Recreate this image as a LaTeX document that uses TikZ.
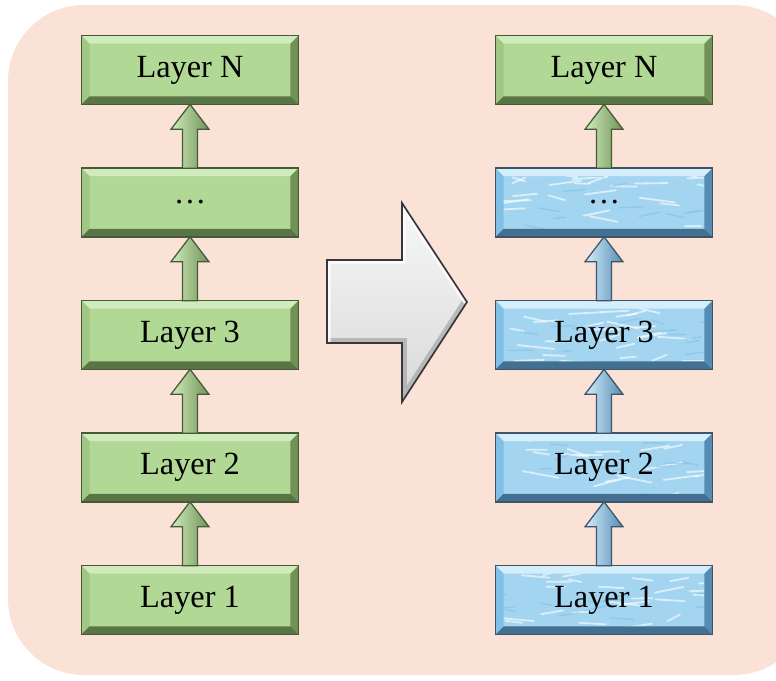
\documentclass[tikz,border=0pt]{standalone}
\usepackage{fontspec}
\setmainfont{Liberation Serif}
\usetikzlibrary{calc}

\definecolor{bgpeach}{RGB}{250,227,214}
\definecolor{greenface}{RGB}{178,216,150}
\definecolor{greenhi}{RGB}{208,236,188}
\definecolor{greenmid}{RGB}{160,200,132}
\definecolor{greenlo}{RGB}{112,146,86}
\definecolor{greenedge}{RGB}{70,90,56}
\definecolor{blueface}{RGB}{164,213,240}
\definecolor{bluehi}{RGB}{212,238,252}
\definecolor{bluemid}{RGB}{128,192,230}
\definecolor{bluelo}{RGB}{84,140,180}
\definecolor{blueedge}{RGB}{62,84,104}
\definecolor{arrowedge}{RGB}{55,55,58}

% bevelled frame round a layer box: name, colour prefix
\newcommand{\bevel}[2]{%
  \fill[#2hi] (#1.north west) -- (#1.north east) -- ($(#1.north east)+(-8,8)$) -- ($(#1.north west)+(8,8)$) -- cycle;
  \fill[#2mid] (#1.north west) -- ($(#1.north west)+(8,8)$) -- ($(#1.south west)+(8,-8)$) -- (#1.south west) -- cycle;
  \fill[#2lo] (#1.north east) -- (#1.south east) -- ($(#1.south east)+(-8,-8)$) -- ($(#1.north east)+(-8,8)$) -- cycle;
  \fill[#2lo!80!black] (#1.south west) -- (#1.south east) -- ($(#1.south east)+(-8,-8)$) -- ($(#1.south west)+(8,-8)$) -- cycle;
  \draw[#2edge, line width=1.1pt] (#1.north west) rectangle (#1.south east);
}

% fat upward arrow from one box to the next: lower, upper, colour prefix
\newcommand{\layerlink}[3]{%
  \draw[left color=#3hi, right color=#3lo, draw=#3edge, line width=0.9pt, line join=miter]
    ($(#1.north)+(-7.5,0)$) -- ($(#2.south)+(-7.5,25)$) -- ($(#2.south)+(-19,25)$) -- (#2.south)
    -- ($(#2.south)+(19,25)$) -- ($(#2.south)+(7.5,25)$) -- ($(#1.north)+(7.5,0)$) -- cycle;
}

\begin{document}
\begin{tikzpicture}[x=0.025cm, y=-0.025cm,
    layer/.style={minimum width=5.4cm, minimum height=1.7cm, inner sep=0pt,
      font=\fontsize{23}{27}\selectfont},
    layer green/.style={layer, fill=greenface},
    layer blue/.style={layer, fill=blueface, path picture={
      \foreach \k in {1,...,30}
        \draw[white, opacity=0.6, line width=1.3pt, line cap=round]
          ($(path picture bounding box.north west)+({216*rnd},{68*rnd})$) -- ++({12+26*rnd},{-7+14*rnd});
      \foreach \k in {1,...,14}
        \draw[bluemid, opacity=0.6, line width=1pt, line cap=round]
          ($(path picture bounding box.north west)+({216*rnd},{68*rnd})$) -- ++({8+18*rnd},{-5+10*rnd});
      }}]

  \useasboundingbox (0,0) rectangle (776,680);
  \fill[bgpeach, rounded corners=1.9cm] (8,5) rectangle (810,675);
  \pgfmathsetseed{11}

  % plain stack on the left
  \foreach \i/\txt in {1/Layer 1,2/Layer 2,3/Layer 3,4/\ldots,5/Layer N} {
    \node[layer green] (l\i) at (190, {600-132.5*(\i-1)}) {\txt};
    \bevel{l\i}{green}
  }

  % stack on the right, all but the top one frozen
  \foreach \i/\txt in {1/Layer 1,2/Layer 2,3/Layer 3,4/\ldots} {
    \node[layer blue] (r\i) at (604, {600-132.5*(\i-1)}) {\txt};
    \bevel{r\i}{blue}
  }
  \node[layer green] (r5) at (604, 70) {Layer N};
  \bevel{r5}{green}

  \foreach \i in {1,...,4} {
    \pgfmathtruncatemacro\j{\i+1}
    \layerlink{l\i}{l\j}{green}
  }
  \foreach \i in {1,...,3} {
    \pgfmathtruncatemacro\j{\i+1}
    \layerlink{r\i}{r\j}{blue}
  }
  \layerlink{r4}{r5}{green}

  % big grey arrow in the middle
  \fill[top color=gray!6, bottom color=gray!30]
    (327,260) -- (402,260) -- (402,203) -- (467,302) -- (402,402) -- (402,343) -- (327,343) -- cycle;
  \begin{scope}
    \clip (327,260) -- (402,260) -- (402,203) -- (467,302) -- (402,402) -- (402,343) -- (327,343) -- cycle;
    \draw[gray!70, opacity=0.7, line width=7pt, line join=miter]
      (327,343) -- (402,343) -- (402,402) -- (467,302);
    \draw[white, opacity=0.8, line width=5pt, line join=miter]
      (327,343) -- (327,260) -- (402,260) -- (402,203) -- (467,302);
  \end{scope}
  \draw[arrowedge, line width=1.2pt, line join=miter]
    (327,260) -- (402,260) -- (402,203) -- (467,302) -- (402,402) -- (402,343) -- (327,343) -- cycle;
\end{tikzpicture}
\end{document}
